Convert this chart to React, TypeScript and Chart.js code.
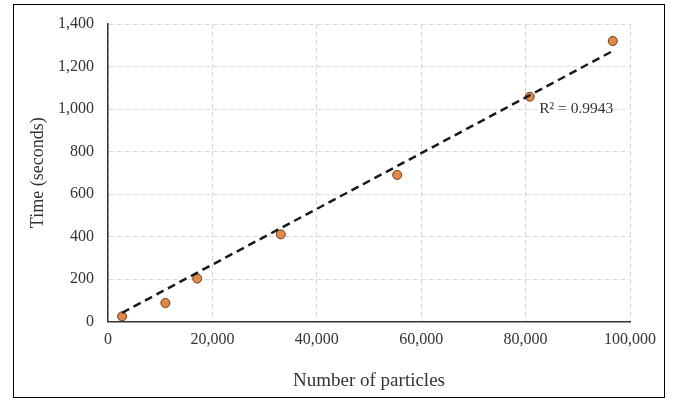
import React, { useEffect, useRef } from "react";
import { Chart, registerables } from "chart.js";

Chart.register(...registerables);

// Measured data points (number of particles, time in seconds)
const particleCounts = [2700, 11000, 17100, 33100, 55400, 80800, 96700];
const timeSeconds = [24, 87, 202, 410, 690, 1058, 1320];

// Trend line end points as drawn in the reference
const trendX = [2700, 96700];
const trendY = [41, 1273];

// R² annotation anchor (data coordinates) and text
const r2Text = ["R² = 0.9943"];
const r2AnchorX = [82600];
const r2AnchorY = [1000];

// Axis ranges
const xRange = [0, 100000];
const xStep = [20000];
const yRange = [0, 1400];
const yStep = [200];

const FONT = "'Liberation Serif', 'Times New Roman', serif";
const TEXT = "#333333";

const r2Plugin = {
  id: "r2label",
  afterDatasetsDraw(chart: any) {
    const { ctx, scales } = chart;
    const px = scales.x.getPixelForValue(r2AnchorX[0]);
    const py = scales.y.getPixelForValue(r2AnchorY[0]);
    ctx.save();
    ctx.font = `15.5px ${FONT}`;
    ctx.fillStyle = TEXT;
    ctx.textAlign = "left";
    ctx.textBaseline = "middle";
    ctx.fillText(r2Text[0], px, py);
    ctx.restore();
  },
};

export default function App() {
  const canvasRef = useRef<HTMLCanvasElement | null>(null);

  useEffect(() => {
    const canvas = canvasRef.current;
    if (!canvas) return;
    const chart = new Chart(canvas, {
      type: "scatter",
      data: {
        datasets: [
          {
            label: "Trend",
            data: trendX.map((x, i) => ({ x, y: trendY[i] })),
            showLine: true,
            borderColor: "#1a1a1a",
            borderWidth: 2.5,
            borderDash: [8, 5],
            pointRadius: 0,
            fill: false,
            order: 0,
          },
          {
            label: "Time",
            data: particleCounts.map((x, i) => ({ x, y: timeSeconds[i] })),
            backgroundColor: "#E2884A",
            borderColor: "#6b3a14",
            borderWidth: 1,
            pointRadius: 4.5,
            order: 1,
          },
        ],
      },
      options: {
        responsive: false,
        animation: false,
        layout: { padding: { left: 14, top: 24, right: 45, bottom: 8 } },
        plugins: {
          legend: { display: false },
          tooltip: { enabled: false },
        },
        scales: {
          x: {
            type: "linear",
            min: xRange[0],
            max: xRange[1],
            ticks: {
              stepSize: xStep[0],
              padding: 9,
              color: TEXT,
              font: { family: FONT, size: 16 },
              callback: (v: any) => Number(v).toLocaleString("en-US"),
            },
            grid: { color: "#d9d9d9", lineWidth: 1, drawTicks: false },
            border: { display: true, color: "#333333", width: 1.5, dash: [5, 3] },
            title: {
              display: true,
              text: "Number of particles",
              color: TEXT,
              font: { family: FONT, size: 19 },
              padding: { top: 0, bottom: 0.6 },
            },
            afterFit: (s: any) => {
              s.height = 71.5;
            },
          },
          y: {
            type: "linear",
            min: yRange[0],
            max: yRange[1],
            ticks: {
              stepSize: yStep[0],
              padding: 14,
              color: TEXT,
              font: { family: FONT, size: 16 },
              callback: (v: any) => Number(v).toLocaleString("en-US"),
            },
            grid: { color: "#d9d9d9", lineWidth: 1, drawTicks: false },
            border: { display: true, color: "#333333", width: 1.5, dash: [5, 3] },
            title: {
              display: true,
              text: "Time (seconds)",
              color: TEXT,
              font: { family: FONT, size: 18 },
              padding: { top: 13, bottom: 0 },
            },
            afterFit: (s: any) => {
              s.width = 94;
            },
          },
        },
      },
      plugins: [r2Plugin],
    } as any);
    return () => chart.destroy();
  }, []);

  return (
    <div
      style={{
        position: "fixed",
        left: 0,
        top: 0,
        width: 675,
        height: 401,
        background: "#fff",
      }}
    >
      <canvas
        ref={canvasRef}
        width={675}
        height={401}
        style={{ position: "absolute", left: 0, top: 0, width: 675, height: 401 }}
      />
      <div
        style={{
          position: "absolute",
          left: 13,
          top: 4,
          width: 652,
          height: 394,
          boxSizing: "border-box",
          border: "1px solid #000",
          pointerEvents: "none",
        }}
      />
    </div>
  );
}
